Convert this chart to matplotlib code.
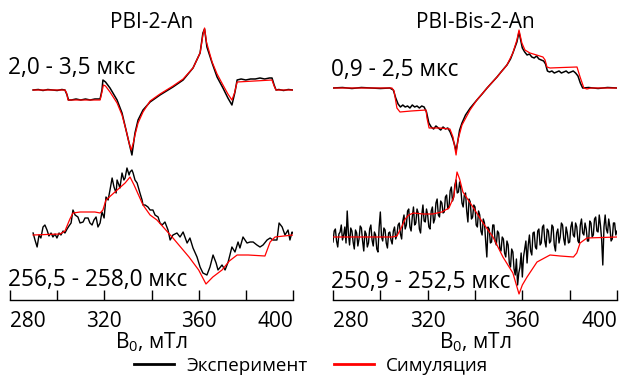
import matplotlib
matplotlib.use("Agg")
import matplotlib.pyplot as plt
import numpy as np
from matplotlib.lines import Line2D

plt.rcParams['font.family'] = ['Open Sans', 'DejaVu Sans']
plt.rcParams['mathtext.fontset'] = 'custom'
plt.rcParams['mathtext.rm'] = 'Open Sans'
plt.rcParams['mathtext.it'] = 'Open Sans'

# ---------------- data (field in mT, signal in arbitrary units) ----------------
titles = ["PBI-2-An", "PBI-Bis-2-An"]
early_labels = ["2,0 - 3,5 мкс", "0,9 - 2,5 мкс"]
late_labels = ["256,5 - 258,0 мкс", "250,9 - 252,5 мкс"]
xlabel = "B$_{0}$, мТл"
legend_labels = ["Эксперимент", "Симуляция"]
major_ticks = [280, 320, 360, 400]
minor_ticks = [300, 340, 380]

# PBI-2-An, early window
l_early_exp_B = [289.8, 292, 294, 296, 298, 300, 302, 303.3, 304.2, 304.8, 306, 308, 310, 312, 314, 316,
                 318.2, 319.0, 319.4, 320.5, 322.4, 325.4, 327.5, 329.2, 330.5, 331.7, 333.0, 334.3,
                 336.4, 339.4, 343.6, 349.1, 353.4, 357.6, 360.6, 361.8, 362.5, 363.5, 365.7, 367.8,
                 370.3, 372.4, 374.1, 375.4, 376.3, 378, 380, 382, 384, 386, 388, 390, 391.1, 392.0,
                 392.8, 394, 396, 398, 400]
l_early_exp = [0, 0.5, -0.5, 0.5, 0, -0.5, 0.5, 0, -5, -10, -10, -9, -10, -9, -10, -9,
               -9, 0, 10, 8, 2, -10, -23, -40, -53, -65, -43, -30,
               -20, -12, -5, 3, 10, 22, 37, 57, 61, 43, 27, 13,
               2, -8, -15, -2, 10, 11, 10, 11, 11, 12, 11, 12, 12, 5,
               0, 0.5, -0.5, 0.5, 0]
l_early_sim_B = [289.8, 303.3, 304.0, 304.6, 318.2, 319.0, 319.6, 320.5, 322.4, 325.4, 327.5, 329.2,
                 330.5, 331.4, 332.3, 333.0, 334.3, 336.4, 339.4, 343.6, 349.1, 353.4, 357.6, 360.6,
                 361.8, 362.5, 363.3, 365.7, 367.8, 370.3, 372.4, 374.1, 375.2, 376.3, 391.1, 392.0,
                 392.8, 400]
l_early_sim = [0, 0, -3, -10, -10, -2, 5, 4, -2, -13, -25, -40,
               -53, -60, -53, -45, -33, -22, -11, -4, 4, 11, 22, 37,
               55, 62, 48, 28, 16, 5, -4, -10, -3, 8, 10, 4,
               0, 0]

# PBI-2-An, late window
l_late_exp_B = [289.8, 290.6, 291.5, 292.3, 293.1, 294.0, 294.8, 295.7, 296.5, 297.4, 298.2, 299.1,
                299.9, 300.8, 301.6, 302.5, 303.3, 304.2, 305.0, 305.9, 306.7, 307.6, 308.8, 309.7,
                311.0, 311.8, 313.1, 313.9, 314.8, 315.6, 316.5, 317.3, 318.2, 319.0, 319.9, 320.7,
                321.6, 322.4, 323.3, 324.1, 325.0, 325.4, 326.2, 326.6, 327.5, 328.3, 328.8, 329.6,
                330.5, 330.9, 331.7, 332.2, 333.0, 333.9, 335.1, 336.0, 336.4, 337.3, 338.5, 339.4,
                340.6, 341.5, 342.8, 343.6, 344.5, 345.7, 347.0, 347.9, 349.1, 350.8, 352.1, 353.4,
                355.1, 356.3, 357.6, 359.3, 360.6, 361.8, 363.5, 364.8, 366.1, 367.4, 368.2, 369.9,
                371.2, 372.5, 374.1, 375.4, 376.7, 377.5, 378.8, 380.5, 381.8, 383.1, 384.7, 386.0,
                387.3, 389.0, 390.3, 391.5, 393.2, 394.1, 395.4, 396.6, 397.9, 398.7, 399.6, 400.0]
l_late_exp = [2, -5, -12, 0, -3, 8, 10, 5, -1, 2, -2, 1,
              -3, 2, 0, 4, 2, 6, 9, 12, 25, 20, 18, 12,
              13, 17, 17, 12, 10, 15, 18, 8, 12, 23, 17, 38,
              35, 45, 57, 48, 42, 55, 50, 47, 62, 55, 57, 67,
              60, 63, 65, 62, 55, 52, 42, 35, 30, 30, 28, 25,
              25, 20, 18, 12, 10, 13, 5, -5, 0, 2, -2, 3,
              -8, -3, -13, -22, -32, -38, -40, -32, -20, -28, -35, -30,
              -35, -27, -12, -17, -7, -13, -2, -8, -7, -7, -10, -12,
              -10, -5, -3, -5, -5, 12, 8, 0, 5, -5, 3, 2]
l_late_sim_B = [289.8, 301.2, 303.3, 305.4, 306.7, 309.7, 316.0, 318.2, 319.4, 320.7, 324.5, 328.8,
                330.9, 332.6, 336.4, 339.4, 342.3, 349.1, 355.9, 360.0, 363.1, 366.0, 369.9, 373.0,
                376.3, 381.0, 388.1, 390.3, 392.4, 400]
l_late_sim = [0, 1, 4, 16, 22, 23, 23, 22, 25, 35, 43, 52,
              58, 50, 30, 20, 15, -3, -22, -35, -49, -42, -35, -26,
              -20, -20, -21, -7, -2, 0]

# PBI-Bis-2-An, early window
r_early_exp_B = [280, 284, 288, 292, 296, 300, 304, 305.5, 306.5, 307.5, 308.5, 309.5, 310.5, 311.5,
                 312.5, 313.5, 314.5, 315.5, 316.5, 317.5, 318.5, 319.5, 320.5, 321.5, 322.5, 323.5,
                 324.5, 325.5, 326.5, 327.5, 328.5, 329.5, 330.5, 331.5, 332.0, 332.6, 333.5, 334.5,
                 336, 338, 340.8, 343, 345.1, 347, 349.3, 351, 353.5, 355, 356, 357.7, 358.6, 359.3,
                 360, 361, 362, 363, 364, 365, 366, 367, 368, 369, 369.8, 370.6, 371.5, 372.5, 373.5,
                 374.5, 375.5, 376.5, 377.5, 378.5, 379.5, 380.5, 381.5, 382.5, 383.5, 384.5, 385.5,
                 388, 392, 396, 400]
r_early_exp = [0, 0.5, -0.5, 0.5, 0, -0.5, 0, -2, -10, -16, -19, -17, -19, -18,
               -20, -17, -19, -18, -20, -18, -19, -24, -35, -39, -41, -38,
               -40, -42, -39, -41, -40, -44, -50, -58, -63, -55, -42, -35,
               -27, -20, -12, -6, 0, 5, 11, 16, 23, 29, 35, 46, 56, 48,
               40, 36, 33, 34, 31, 30, 32, 29, 28, 27, 24, 17, 16, 17, 15,
               16, 17, 15, 16, 17, 15, 16, 17, 15, 12, 5, 0,
               0.5, -0.5, 0.5, 0]
r_early_sim_B = [280, 304.9, 305.8, 307.0, 308.3, 313, 319.3, 319.7, 320.6, 325, 329.4, 330.7,
                 332.0, 332.8, 334.5, 337.9, 340.8, 345.1, 349.3, 353.5, 356.0, 357.7, 358.6, 359.8,
                 361.1, 363.2, 366, 368.7, 369.6, 370.4, 371.7, 377, 383.1, 384.4, 386.0, 387.3,
                 389, 400]
r_early_sim = [0, 0, -3, -20, -24, -23, -22, -30, -40, -40, -41, -49,
               -67, -52, -37, -22, -12, 0, 11, 23, 35, 48, 58, 45,
               38, 35, 33, 31, 28, 21, 20, 20.5, 21, 11, 0, -1,
               0, 0]

# PBI-Bis-2-An, late window (sweep 280..400 mT, 0.5 mT steps)
r_late_exp = [-5, 6, 8, -4, -10, 3, 5, 12, -3, 2,
              10, -6, 26, 4, -8, 9, 6, -5, -12, 7,
              4, -9, -2, 11, 9, -4, -14, 6, 3, -10,
              -6, 8, 12, -3, -9, 5, 2, -12, -15, 10,
              25, 0, -4, 9, 7, -6, -11, 4, 5, -3,
              -7, 6, 10, -2, 2, 12, 14, 3, -2, 16,
              22, 8, 12, 26, 28, 10, 6, 20, 30, 12,
              14, 28, 24, 8, 4, 22, 32, 16, 15, 28,
              22, 10, 8, 26, 30, 14, 18, 34, 38, 22,
              20, 36, 34, 24, 25, 40, 42, 28, 30, 46,
              50, 36, 40, 52, 57, 44, 45, 55, 48, 34,
              30, 42, 44, 26, 15, 38, 35, 18, 20, 32,
              30, 12, 10, 26, 22, 6, 2, 18, 14, -4,
              -20, 10, 8, -6, -5, 12, 12, -4, -8, 6,
              4, -12, -14, 0, -2, -16, -20, -4, -8, -26,
              -30, -12, -15, -32, -38, -22, -48, -36, -30, -16,
              -40, -20, -12, -4, -26, -8, 2, -14, -18, 4,
              5, -10, -12, 6, 8, -8, -6, 10, 12, -4,
              -10, 8, 6, -6, -4, 12, 10, -8, -14, 4,
              8, -6, 0, 14, 12, -2, -8, 10, 4, -6,
              -5, 10, 15, 2, 0, 14, 10, -4, -6, 12,
              18, 4, 2, 14, 8, -4, -4, 16, 14, 0,
              2, 18, 20, 6, 5, 22, 12, -2, -28, 10,
              22, 8, 4, 18, 10, -4, -2, 14, 14, 2,
              6]
r_late_exp_B = np.linspace(280, 400, len(r_late_exp))
r_late_sim_B = [280, 300, 305, 307, 309, 310.5, 312, 314, 318, 322, 326, 329, 331, 332.4, 333.5,
                334.9, 339.1, 343.4, 347.6, 351.8, 356.0, 358.6, 360, 362, 366.2, 371.7, 376, 381.6,
                383, 384.4, 387.3, 400]
r_late_sim = [0, 0, 0, 1, 10, 18, 22, 24, 23, 23, 25, 29, 40, 65, 58,
              45, 30, 14, 0, -20, -36, -57, -48, -40, -25, -18, -19, -20,
              -16, -6, -1, 0]

# ---------------- layout / style ----------------
W, H = 619, 375
FS = 15
FS_ANN = 16.3
FS_LEG = 13.5
C_EXP = "black"
C_SIM = "#ff0000"

fig = plt.figure(figsize=(W / 100, H / 100), dpi=100)

panels = [
    dict(left=10, right=293, spine=300, top_base=90, bot_base=235,
         data=(l_early_exp_B, l_early_exp, l_early_sim_B, l_early_sim,
               l_late_exp_B, l_late_exp, l_late_sim_B, l_late_sim),
         title_y=22, early_y=68, late_y=280),
    dict(left=333, right=617, spine=300, top_base=88, bot_base=237,
         data=(r_early_exp_B, r_early_exp, r_early_sim_B, r_early_sim,
               r_late_exp_B, r_late_exp, r_late_sim_B, r_late_sim),
         title_y=22, early_y=70, late_y=282),
]

AX_TOP = 10
for i, p in enumerate(panels):
    x0 = p["left"] / W
    w = (p["right"] - p["left"]) / W
    y0 = 1 - p["spine"] / H
    h = (p["spine"] - AX_TOP) / H
    ax = fig.add_axes([x0, y0, w, h])
    ax.set_xlim(280, 400)
    ax.set_ylim(0, p["spine"] - AX_TOP)
    top_off = p["spine"] - p["top_base"]
    bot_off = p["spine"] - p["bot_base"]
    eB, e, sB, s, leB, le, lsB, ls = p["data"]
    ax.plot(eB, np.array(e) + top_off, color=C_EXP, lw=1.1)
    ax.plot(sB, np.array(s) + top_off, color=C_SIM, lw=0.9)
    ax.plot(leB, np.array(le) + bot_off, color=C_EXP, lw=1.0)
    ax.plot(lsB, np.array(ls) + bot_off, color=C_SIM, lw=0.9)

    for sp in ["top", "left", "right"]:
        ax.spines[sp].set_visible(False)
    ax.spines["bottom"].set_linewidth(1.0)
    ax.set_yticks([])
    ax.set_xticks(major_ticks)
    ax.set_xticks(minor_ticks, minor=True)
    ax.set_xticklabels([str(t) for t in major_ticks])
    ax.tick_params(axis="x", which="both", direction="in", length=7, width=1.0,
                   labelsize=FS, pad=8)
    ticks = ax.xaxis.get_major_ticks()
    ticks[0].label1.set_horizontalalignment("left")
    ticks[-1].label1.set_horizontalalignment("right")
    ax.patch.set_visible(False)

    cx = (p["left"] + p["right"]) / 2 / W
    fig.text(cx, 1 - p["title_y"] / H, titles[i], ha="center", va="center", fontsize=FS)
    fig.text((p["left"] - 2) / W, 1 - p["early_y"] / H, early_labels[i], ha="left", va="center", fontsize=FS_ANN)
    fig.text((p["left"] - 2) / W, 1 - p["late_y"] / H, late_labels[i], ha="left", va="center", fontsize=FS_ANN)
    fig.text(cx, 1 - 342 / H, xlabel, ha="center", va="center", fontsize=FS)

handles = [Line2D([], [], color=C_EXP, lw=2.0), Line2D([], [], color=C_SIM, lw=2.0)]
fig.legend(handles, legend_labels, loc="center", bbox_to_anchor=(0.503, 1 - 366 / H),
           ncol=2, frameon=False, fontsize=FS_LEG, handlelength=2.13, handletextpad=0.64,
           columnspacing=1.44, borderpad=0, borderaxespad=0)

fig.savefig("out.png", dpi=100)
